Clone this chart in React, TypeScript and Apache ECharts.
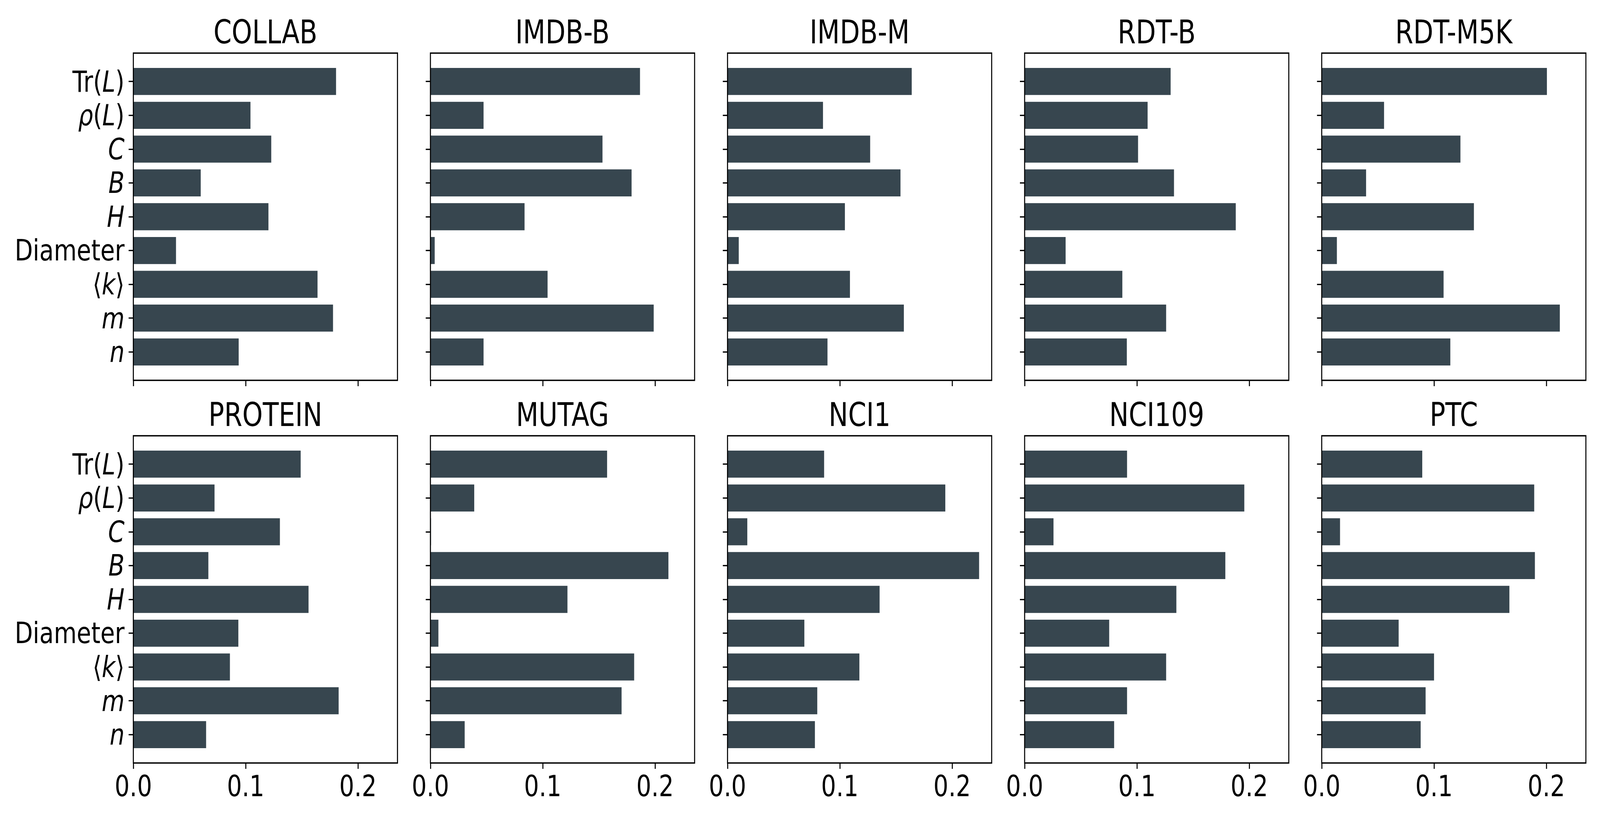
import React, { useEffect, useRef, useState } from "react";
import * as echarts from "echarts";

// ---------- data ----------
const categories = ["Tr(L)", "ρ(L)", "C", "B", "H", "Diameter", "⟨k⟩", "m", "n"];
const datasetNames = ["COLLAB", "IMDB-B", "IMDB-M", "RDT-B", "RDT-M5K", "PROTEIN", "MUTAG", "NCI1", "NCI109", "PTC"];

const collab = [0.1805, 0.1043, 0.1228, 0.060, 0.1203, 0.038, 0.164, 0.1778, 0.0938];
const imdbB = [0.1866, 0.0473, 0.1532, 0.1791, 0.0838, 0.0038, 0.1043, 0.1988, 0.0473];
const imdbM = [0.164, 0.085, 0.127, 0.154, 0.1045, 0.010, 0.109, 0.157, 0.089];
const rdtB = [0.130, 0.1095, 0.101, 0.133, 0.188, 0.0365, 0.087, 0.126, 0.091];
const rdtM5K = [0.2005, 0.0555, 0.1235, 0.0395, 0.1355, 0.0135, 0.1085, 0.212, 0.1145];
const protein = [0.149, 0.0723, 0.1305, 0.0668, 0.156, 0.0935, 0.086, 0.1828, 0.0648];
const mutag = [0.1573, 0.039, 0.0005, 0.2119, 0.122, 0.0071, 0.1814, 0.1702, 0.0305];
const nci1 = [0.086, 0.1939, 0.0176, 0.224, 0.1354, 0.0684, 0.1174, 0.0799, 0.0778];
const nci109 = [0.0912, 0.1956, 0.0257, 0.1787, 0.1351, 0.0753, 0.126, 0.0912, 0.0797];
const ptc = [0.0895, 0.1892, 0.0163, 0.1898, 0.1671, 0.0685, 0.100, 0.0925, 0.0881];

const allValues = [collab, imdbB, imdbM, rdtB, rdtM5K, protein, mutag, nci1, nci109, ptc];

const xTicks = [0, 0.1, 0.2];
const xMax = 0.2352;

// ---------- styling / layout ----------
const CHART_W = 5100;
const CHART_H = 2100;
const BAR_COLOR = "#37464f";
const FONT = "DejaVu Sans";
const LABEL_SIZE = 75;
const TITLE_SIZE = 83;
const LINE_W = 3.3;

const FRAME_LEFT0 = 425;
const FRAME_PITCH = 947;
const FRAME_W = 842;
const FRAME_H = 838;
const FRAME_TOPS = [136, 1116];

const richLabel: Record<string, string> = {
  "Tr(L)": "{r|Tr(}{i|L}{r|)}",
  "ρ(L)": "{i|ρ}{r|(}{i|L}{r|)}",
  C: "{i|C}",
  B: "{i|B}",
  H: "{i|H}",
  Diameter: "{r|Diameter}",
  "⟨k⟩": "{r|⟨}{i|k}{r|⟩}",
  m: "{i|m}",
  n: "{i|n}",
};

function buildOption() {
  const n = categories.length;
  const span = (n - 1 + 0.8) * 1.1; // matplotlib margins
  const unit = FRAME_H / span;
  const pad = ((span - n) / 2) * unit;

  const grid: any[] = [];
  const xAxis: any[] = [];
  const yAxis: any[] = [];
  const series: any[] = [];
  const graphic: any[] = [];

  datasetNames.forEach((name, i) => {
    const row = Math.floor(i / 5);
    const col = i % 5;
    const left = FRAME_LEFT0 + col * FRAME_PITCH;
    const top = FRAME_TOPS[row];

    grid.push({
      left,
      top,
      width: FRAME_W,
      height: FRAME_H,
      show: true,
      borderColor: "#000",
      borderWidth: LINE_W,
      backgroundColor: "transparent",
      z: 5,
      containLabel: false,
      outerBoundsMode: "none",
    });
    grid.push({
      left,
      top: top + pad,
      width: FRAME_W,
      height: FRAME_H - 2 * pad,
      show: false,
      containLabel: false,
      outerBoundsMode: "none",
    });
    const fg = 2 * i;
    const pg = 2 * i + 1;

    xAxis.push({ gridIndex: fg, type: "value", show: false, min: 0, max: 1 });
    yAxis.push({ gridIndex: fg, type: "value", show: false, min: 0, max: 1 });

    xAxis.push({
      gridIndex: pg,
      type: "value",
      min: 0,
      max: xMax,
      interval: 0.1,
      position: "bottom",
      offset: pad,
      axisLine: { show: false },
      splitLine: { show: false },
      axisTick: {
        show: true,
        inside: false,
        length: 15,
        customValues: xTicks,
        lineStyle: { color: "#000", width: LINE_W },
      },
      axisLabel: {
        show: row === 1,
        customValues: xTicks,
        margin: 22,
        fontSize: LABEL_SIZE,
        fontFamily: FONT,
        color: "#000",
        formatter: (v: number) => v.toFixed(1),
      },
    });
    yAxis.push({
      gridIndex: pg,
      type: "category",
      data: categories,
      inverse: true,
      axisLine: { show: false },
      splitLine: { show: false },
      axisTick: {
        show: true,
        inside: false,
        alignWithLabel: true,
        length: 15,
        lineStyle: { color: "#000", width: LINE_W },
      },
      axisLabel: {
        show: col === 0,
        interval: 0,
        margin: 28,
        formatter: (v: string) => richLabel[v] ?? v,
        rich: {
          r: { fontSize: LABEL_SIZE, fontFamily: FONT, color: "#000", fontStyle: "normal" },
          i: { fontSize: LABEL_SIZE, fontFamily: FONT, color: "#000", fontStyle: "italic" },
        },
      },
    });

    series.push({
      type: "bar",
      xAxisIndex: pg,
      yAxisIndex: pg,
      data: allValues[i],
      barWidth: "80%",
      itemStyle: { color: BAR_COLOR },
      silent: true,
      z: 2,
    });

    graphic.push({
      type: "text",
      x: left + FRAME_W / 2,
      y: top - 25 - 0.346 * TITLE_SIZE,
      style: {
        text: name,
        fontSize: TITLE_SIZE,
        fontFamily: FONT,
        fill: "#000",
        align: "center",
        verticalAlign: "middle",
      },
    });
  });

  return {
    animation: false,
    backgroundColor: "#fff",
    grid,
    xAxis,
    yAxis,
    series,
    graphic,
  };
}

export default function App() {
  const ref = useRef<HTMLDivElement>(null);
  const [view, setView] = useState({ w: CHART_W, h: CHART_H });

  useEffect(() => {
    document.body.style.margin = "0";
    document.body.style.overflow = "hidden";
    setView({ w: window.innerWidth || CHART_W, h: window.innerHeight || CHART_H });
  }, []);

  useEffect(() => {
    if (!ref.current) return;
    const chart = echarts.init(ref.current, undefined, {
      renderer: "svg",
      width: CHART_W,
      height: CHART_H,
    });
    chart.setOption(buildOption() as any);
    return () => chart.dispose();
  }, []);

  // The browser viewport may be narrower than the chart's native size:
  // fit the native 5100x2100 drawing into the available viewport.
  const sx = Math.min(1, view.w / CHART_W);
  const sy = Math.min(1, view.h / CHART_H);

  return (
    <div style={{ width: CHART_W * sx, height: CHART_H * sy, overflow: "hidden", background: "#fff" }}>
      <div
        ref={ref}
        style={{
          width: CHART_W,
          height: CHART_H,
          background: "#fff",
          transform: `scale(${sx}, ${sy})`,
          transformOrigin: "0 0",
        }}
      />
    </div>
  );
}
